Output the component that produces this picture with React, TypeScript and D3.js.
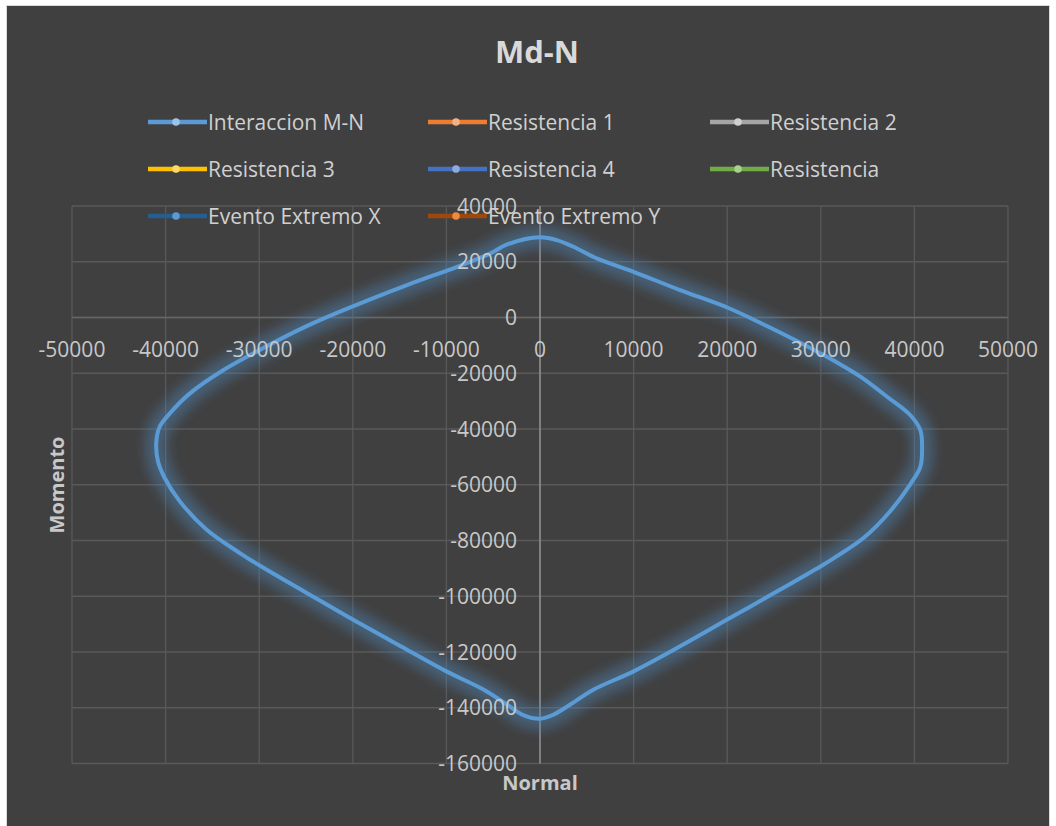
import React from "react";
import * as d3 from "d3";

// ---- Data ----
const xTicks = [-50000, -40000, -30000, -20000, -10000, 0, 10000, 20000, 30000, 40000, 50000];
const yTicks = [40000, 20000, 0, -20000, -40000, -60000, -80000, -100000, -120000, -140000, -160000];

// Interaccion M-N: right branch (top -> bottom)
const rightN = [0, 1780, 3565, 6060, 10000, 14970, 20000, 23900, 27450, 30000, 31563, 34233, 37081, 39573, 40640, 40819, 40640, 39573, 37437, 34589, 31400, 30000, 25670, 20000, 14970, 10000, 5700, 3200, 1430, 0];
const rightM = [28750, 27780, 25390, 21200, 16400, 9820, 3590, -2500, -8400, -12930, -15800, -21200, -28430, -35060, -40480, -46500, -53490, -59760, -69400, -79030, -86300, -89220, -97600, -108380, -117960, -126940, -133530, -138920, -142510, -143950];
// left branch (bottom -> top)
const leftN = [-1714, -3500, -6000, -10000, -14210, -20000, -24930, -30000, -32070, -35640, -38500, -40110, -40820, -41000, -40643, -39571, -37429, -33857, -30000, -24929, -19929, -14214, -8857, -5286, -3500];
const leftM = [-142750, -138920, -133530, -126950, -119160, -108380, -98800, -88860, -84500, -76050, -65870, -57500, -51500, -45000, -39280, -34490, -27300, -18920, -11740, -3110, 4070, 11620, 18200, 22990, 26200];

const legendNames = ["Interaccion M-N", "Resistencia 1", "Resistencia 2", "Resistencia 3", "Resistencia 4", "Resistencia", "Evento Extremo X", "Evento Extremo Y"];
const legendLine = ["#5B9BD5", "#ED7D31", "#A5A5A5", "#FFC000", "#4472C4", "#70AD47", "#255E91", "#9E480E"];
const legendMarker = ["#9DC3E6", "#F4B183", "#D0D0D0", "#FFD966", "#8FAADC", "#A9D18E", "#5B9BD5", "#F08A3C"];

export default function App() {
  const W = 1056, H = 826;
  const x = d3.scaleLinear().domain([-50000, 50000]).range([72, 1008]);
  const y = d3.scaleLinear().domain([-160000, 40000]).range([763.5, 206]);

  const pts: [number, number][] = [];
  rightN.forEach((n, i) => pts.push([n, rightM[i]]));
  leftN.forEach((n, i) => pts.push([n, leftM[i]]));
  const line = d3.line<[number, number]>()
    .x(d => x(d[0]))
    .y(d => y(d[1]))
    .curve(d3.curveCatmullRomClosed.alpha(0.5));
  const pathD = line(pts) || "";

  const font = "'Open Sans', sans-serif";
  const colX = [148, 428, 710];
  const rowY = [122, 169, 216];

  return (
    <svg width={W} height={H} style={{ position: "absolute", left: 0, top: 0 }}>
      <defs>
        <filter id="glow" x="-20%" y="-20%" width="140%" height="140%">
          <feGaussianBlur stdDeviation="6" />
        </filter>
      </defs>
      <rect x={0} y={0} width={W} height={H} fill="#ffffff" />
      <rect x={6.5} y={5.5} width={1043} height={830} fill="#404040" stroke="#d9d9d9" strokeWidth={1} />

      {/* gridlines */}
      {xTicks.map(t => (
        <line key={"gx" + t} x1={x(t)} x2={x(t)} y1={y(40000)} y2={y(-160000)} stroke="#595959" strokeWidth={1.3} />
      ))}
      {yTicks.map(t => (
        <line key={"gy" + t} x1={x(-50000)} x2={x(50000)} y1={y(t)} y2={y(t)} stroke="#595959" strokeWidth={1.3} />
      ))}
      {/* axes */}
      <line x1={x(-50000)} x2={x(50000)} y1={y(0)} y2={y(0)} stroke="#666666" strokeWidth={1.3} />
      <line x1={x(0)} x2={x(0)} y1={y(40000)} y2={y(-160000)} stroke="#9a9a9a" strokeWidth={1.3} />

      {/* curve with glow */}
      <path d={pathD} fill="none" stroke="#4f86b8" strokeOpacity={0.45} strokeWidth={22} filter="url(#glow)" />
      <path d={pathD} fill="none" stroke="#5B9BD5" strokeWidth={4} strokeLinejoin="round" />

      {/* x tick labels */}
      {xTicks.map(t => (
        <text key={"tx" + t} x={x(t)} y={y(0) + 39} textAnchor="middle" fontFamily={font} fontSize={21} fill="#c8c8c8">{t}</text>
      ))}
      {/* y tick labels */}
      {yTicks.map(t => (
        <text key={"ty" + t} x={x(0) - 23} y={y(t) + 7.5} textAnchor="end" fontFamily={font} fontSize={21} fill="#c8c8c8">{t}</text>
      ))}

      {/* legend */}
      {legendNames.map((name, i) => {
        const cx = colX[i % 3];
        const cy = rowY[Math.floor(i / 3)];
        return (
          <g key={name}>
            <line x1={cx} x2={cx + 59} y1={cy} y2={cy} stroke={legendLine[i]} strokeWidth={4.5} />
            <circle cx={cx + 28} cy={cy} r={3.8} fill={legendMarker[i]} />
            <text x={cx + 60} y={cy + 7.5} fontFamily={font} fontSize={21} fill="#d0d0d0">{name}</text>
          </g>
        );
      })}

      {/* title */}
      <text x={537} y={63} textAnchor="middle" fontFamily={font} fontWeight="bold" fontSize={31} fill="#d9d9d9">Md-N</text>
      {/* axis titles */}
      <text x={540} y={790} textAnchor="middle" fontFamily={font} fontWeight="bold" fontSize={20} fill="#c8c8c8">Normal</text>
      <text transform="translate(64,485) rotate(-90)" textAnchor="middle" fontFamily={font} fontWeight="bold" fontSize={20} fill="#c8c8c8">Momento</text>
    </svg>
  );
}
